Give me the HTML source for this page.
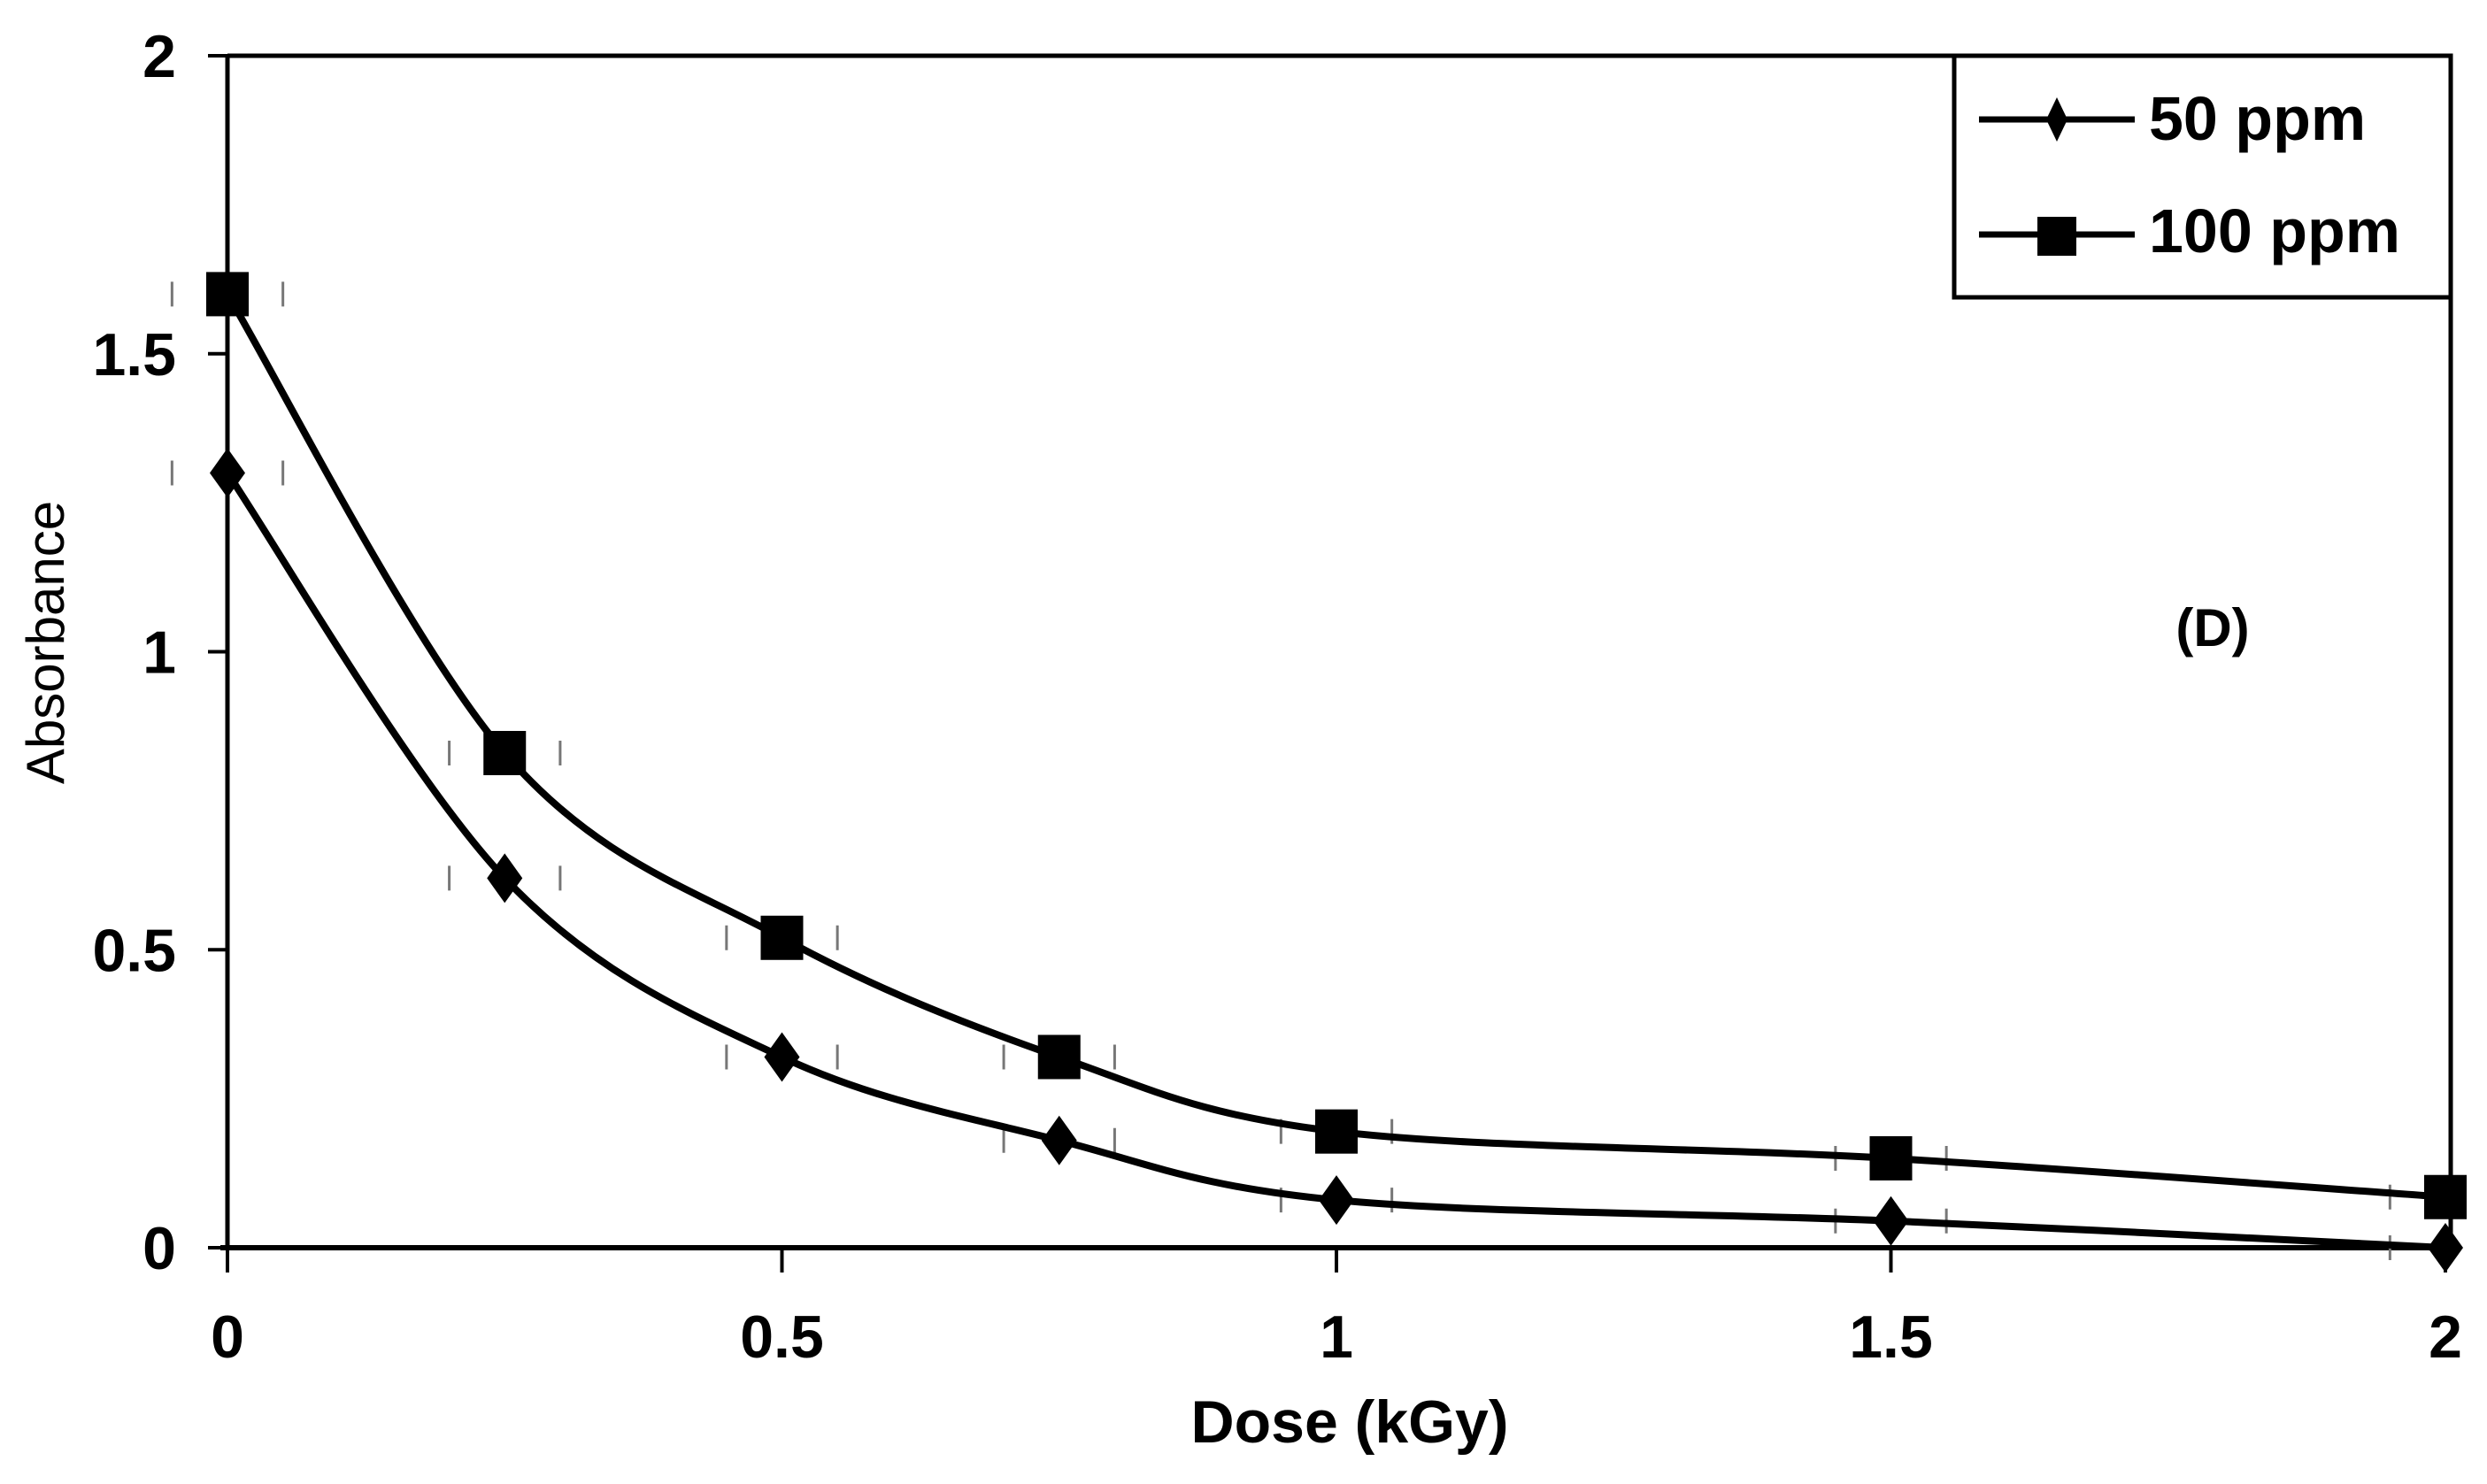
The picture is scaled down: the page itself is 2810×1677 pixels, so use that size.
<!DOCTYPE html>
<html><head><meta charset="utf-8"><style>
html,body{margin:0;padding:0;background:#fff;}
svg{display:block;}
text{font-family:"Liberation Sans",sans-serif;fill:#000;}
</style></head><body>
<svg id="chart" width="2810" height="1677" viewBox="0 0 2810 1677" xmlns="http://www.w3.org/2000/svg">
<g id="axes"></g>
<g id="series"></g>
<g id="legend">
<rect x="2208" y="63" width="561" height="273" fill="#fff" stroke="#000" stroke-width="5"/>
<g>
<line x1="2236" y1="135" x2="2412" y2="135" stroke="#000" stroke-width="7"/>
<path d="M2324 110 L2336 135 L2324 160 L2312 135 Z" fill="#000"/>
<text x="2428" y="158" font-size="70" font-weight="bold">50 ppm</text>
</g>
<g>
<line x1="2236" y1="265" x2="2412" y2="265" stroke="#000" stroke-width="7"/>
<rect x="2302" y="245" width="44" height="44" fill="#000"/>
<text x="2428" y="285" font-size="70" font-weight="bold">100 ppm</text>
</g>
</g>
<text x="2500" y="730" font-size="60" font-weight="bold" text-anchor="middle">(D)</text>
<text x="1525" y="1630" font-size="68" font-weight="bold" text-anchor="middle">Dose (kGy)</text>
<text transform="translate(72,726) rotate(-90)" font-size="60" text-anchor="middle">Absorbance</text>
</svg>
<script>
const doses = [0, 0.25, 0.5, 0.75, 1, 1.5, 2];
const ppm50 = [1.30, 0.62, 0.32, 0.18, 0.08, 0.045, 0.0];
const ppm100 = [1.60, 0.83, 0.52, 0.32, 0.195, 0.15, 0.085];
const xTicks = [0, 0.5, 1, 1.5, 2];
const xTickLabels = ["0", "0.5", "1", "1.5", "2"];
const yTicks = [0, 0.5, 1, 1.5, 2];
const yTickLabels = ["0", "0.5", "1", "1.5", "2"];
const xErr = 0.05;

const X0 = 257, X1 = 2763, Y0 = 1410, Y1 = 63;
const xs = v => X0 + (v - 0) / 2 * (X1 - X0);
const ys = v => Y0 - (v - 0) / 2 * (Y0 - Y1);
const NS = "http://www.w3.org/2000/svg";
function mk(tag, attrs, parent) {
  const e = document.createElementNS(NS, tag);
  for (const k in attrs) e.setAttribute(k, attrs[k]);
  parent.appendChild(e); return e;
}
const axes = document.getElementById('axes');
const ser = document.getElementById('series');

let f = mk('path', {d:`M${X0} ${Y1} L${X1+6} ${Y1} L${X1+6} ${Y0}`, fill:'none', stroke:'#000', 'stroke-width':5}, axes);


let ya = mk('line', {x1:X0, y1:Y1, x2:X0, y2:Y0, stroke:'#000', 'stroke-width':5}, axes);


let xa = mk('line', {x1:X0-8, y1:Y0, x2:X1+8, y2:Y0, stroke:'#000', 'stroke-width':6}, axes);



xTicks.forEach((v, i) => {
  const t = mk('line', {x1:xs(v), y1:Y0, x2:xs(v), y2:Y0+28, stroke:'#000', 'stroke-width':4}, axes);
  
  
  const l = mk('text', {x:xs(v), y:Y0+124, 'font-size':68, 'font-weight':'bold', 'text-anchor':'middle'}, axes);
  l.textContent = xTickLabels[i];
  
  
});
yTicks.forEach((v, i) => {
  const t = mk('line', {x1:X0-22, y1:ys(v), x2:X0, y2:ys(v), stroke:'#000', 'stroke-width':4}, axes);
  
  
  const l = mk('text', {x:X0-58, y:ys(v)+24, 'font-size':68, 'font-weight':'bold', 'text-anchor':'end'}, axes);
  l.textContent = yTickLabels[i];
  
  
});

function smoothPath(px, py) {
  let d = `M${px[0]} ${py[0]}`;
  for (let i = 0; i < px.length - 1; i++) {
    const p0x = px[Math.max(i-1,0)], p0y = py[Math.max(i-1,0)];
    const p3x = px[Math.min(i+2,px.length-1)], p3y = py[Math.min(i+2,px.length-1)];
    const c1x = px[i] + (px[i+1]-p0x)/6, c1y = py[i] + (py[i+1]-p0y)/6;
    const c2x = px[i+1] - (p3x-px[i])/6, c2y = py[i+1] - (p3y-py[i])/6;
    d += ` C${c1x} ${c1y} ${c2x} ${c2y} ${px[i+1]} ${py[i+1]}`;
  }
  return d;
}
function drawSeries(vals, name, marker) {
  const g = mk('g', {}, ser);
  
  
  const px = doses.map(xs), py = vals.map(ys);
  doses.forEach((d, i) => {
    const e = mk('path', {d:`M${xs(d-xErr)} ${py[i]-14} V${py[i]+14} M${xs(d+xErr)} ${py[i]-14} V${py[i]+14}`, stroke:'#777', 'stroke-width':3, fill:'none'}, g);
    
    
  });
  const p = mk('path', {d:smoothPath(px, py), fill:'none', stroke:'#000', 'stroke-width':8}, g);
  
  
  doses.forEach((d, i) => {
    let m;
    if (marker === 'square') m = mk('rect', {x:px[i]-24, y:py[i]-25, width:48, height:50, fill:'#000'}, g);
    else m = mk('path', {d:`M${px[i]} ${py[i]-28} L${px[i]+20} ${py[i]} L${px[i]} ${py[i]+28} L${px[i]-20} ${py[i]} Z`, fill:'#000'}, g);
    
    
  });
}
drawSeries(ppm50, 'series-50ppm', 'diamond');
drawSeries(ppm100, 'series-100ppm', 'square');
</script>
</body></html>
